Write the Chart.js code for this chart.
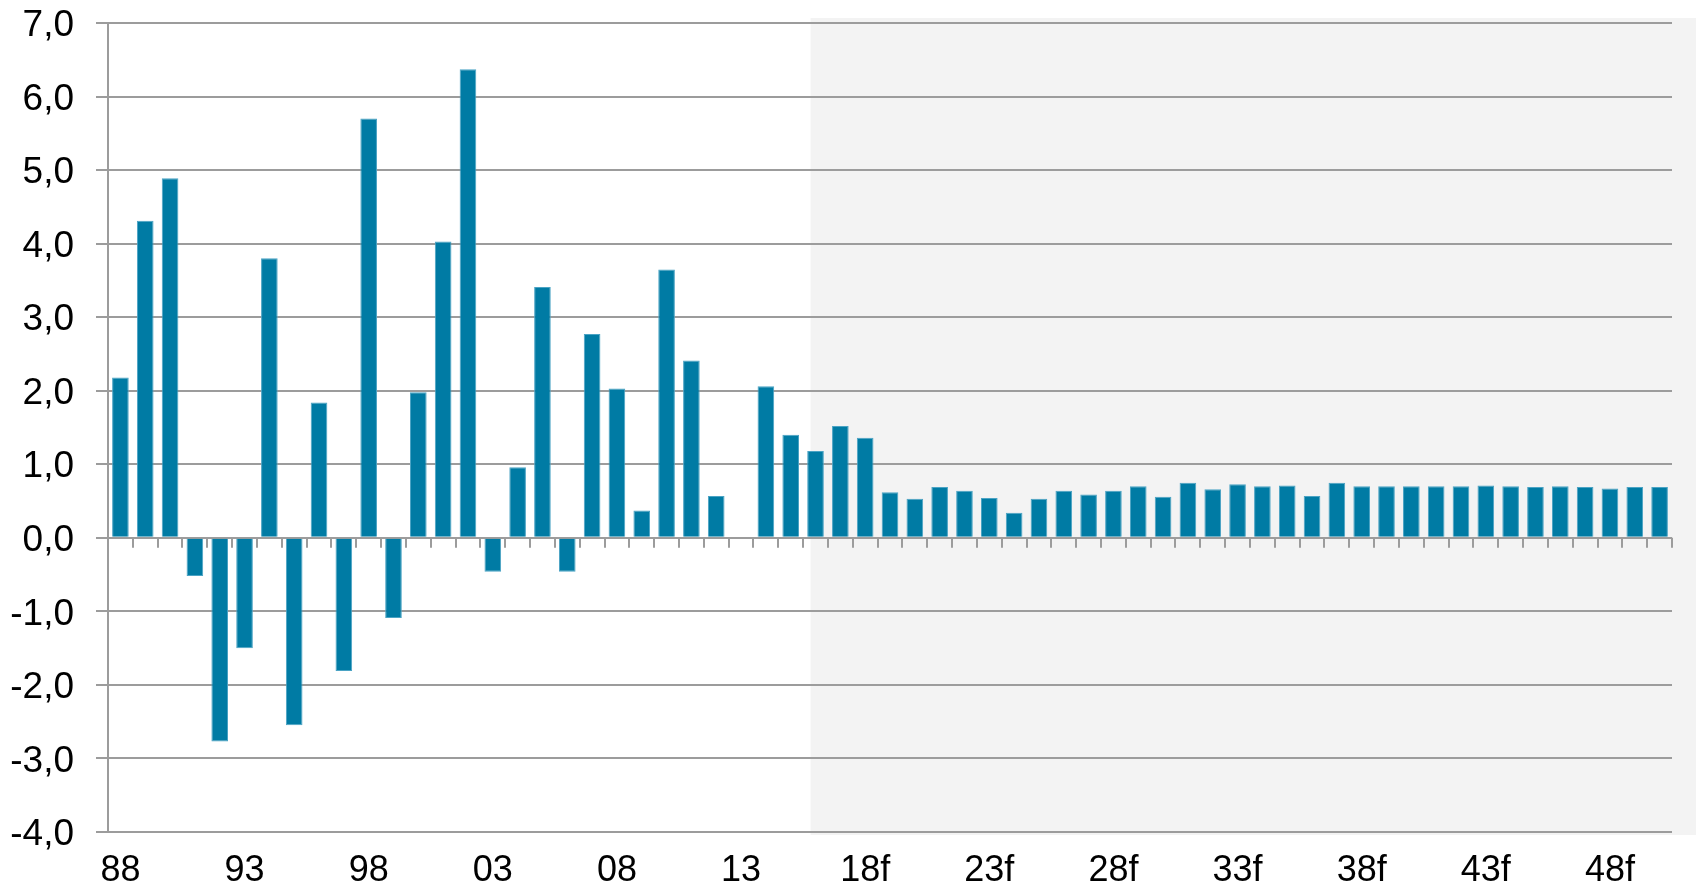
<!DOCTYPE html>
<html>
<head>
<meta charset="utf-8">
<script src="https://cdn.jsdelivr.net/npm/chart.js@4/dist/chart.umd.min.js"></script>
<style>
  html, body { margin: 0; padding: 0; background: #fff; }
  #wrap { width: 1696px; height: 886px; position: relative; }
</style>
</head>
<body>
<div id="wrap"><canvas id="growth_chart"></canvas></div>
<script>
const years = [
  '88', '89', '90', '91', '92', '93', '94', '95', '96', '97', '98', '99',
  '00', '01', '02', '03', '04', '05', '06', '07', '08', '09', '10', '11',
  '12', '13', '14', '15', '16f', '17f', '18f', '19f', '20f', '21f', '22f', '23f',
  '24f', '25f', '26f', '27f', '28f', '29f', '30f', '31f', '32f', '33f', '34f', '35f',
  '36f', '37f', '38f', '39f', '40f', '41f', '42f', '43f', '44f', '45f', '46f', '47f',
  '48f', '49f', '50f'
];
const growth = [
  2.18, 4.31, 4.89, -0.52, -2.77, -1.50, 3.80, -2.55, 1.84, -1.81, 5.70, -1.09,
  1.98, 4.03, 6.37, -0.46, 0.96, 3.41, -0.46, 2.77, 2.03, 0.37, 3.65, 2.41,
  0.57, null, 2.06, 1.40, 1.18, 1.52, 1.36, 0.62, 0.53, 0.69, 0.64, 0.54,
  0.34, 0.53, 0.64, 0.59, 0.64, 0.70, 0.56, 0.75, 0.66, 0.73, 0.70, 0.71,
  0.57, 0.75, 0.70, 0.70, 0.70, 0.70, 0.70, 0.71, 0.70, 0.69, 0.70, 0.69,
  0.67, 0.69, 0.69
];
const forecastFrom = '16f';
const yTicks = [-4, -3, -2, -1, 0, 1, 2, 3, 4, 5, 6, 7];

const gridGrey = '#9c9c9c';
const fontFamily = "'Liberation Sans', Arial, sans-serif";

// grauer Hintergrund fuer die Prognosejahre
const forecastShade = {
  id: 'forecastShade',
  beforeDraw(chart) {
    const { ctx, chartArea, scales } = chart;
    const left = scales.x.getPixelForValue(years.indexOf(forecastFrom) - 0.2);
    ctx.save();
    ctx.fillStyle = '#f3f3f3';
    ctx.fillRect(left, chartArea.top - 5, chart.width - left, chartArea.bottom - chartArea.top + 8);
    ctx.restore();
  }
};

// Striche an der Nulllinie zwischen den Kategorien
const zeroAxisTicks = {
  id: 'zeroAxisTicks',
  afterDatasetsDraw(chart) {
    const { ctx, scales } = chart;
    const y0 = scales.y.getPixelForValue(0);
    ctx.save();
    ctx.strokeStyle = gridGrey;
    ctx.lineWidth = 2;
    ctx.beginPath();
    for (let i = 0; i < years.length; i++) {
      const px = Math.round(scales.x.getPixelForValue(i + 0.5));
      ctx.moveTo(px, y0);
      ctx.lineTo(px, y0 + 10);
    }
    ctx.stroke();
    ctx.restore();
  }
};

const ctx = document.getElementById('growth_chart').getContext('2d');
const growthChart = new Chart(ctx, {
  type: 'bar',
  data: {
    labels: years,
    datasets: [{
      label: 'Wachstum',
      data: growth,
      backgroundColor: '#007ba4',
      borderColor: '#4aa3c4',
      borderWidth: 1,
      barPercentage: 0.67,
      categoryPercentage: 1.0
    }]
  },
  options: {
    responsive: true,
    maintainAspectRatio: false,
    animation: false,
    layout: { padding: { top: 0, right: 24, bottom: 0, left: 0 } },
    plugins: {
      legend: { display: false },
      tooltip: { enabled: false }
    },
    scales: {
      x: {
        grid: { display: false, drawTicks: false },
        border: { display: false },
        afterFit(scale) { scale.height = 54; },
        ticks: {
          autoSkip: false,
          maxRotation: 0,
          padding: 17,
          color: '#000',
          font: { family: fontFamily, size: 36 },
          callback: (val, idx) => idx % 5 === 0 ? years[idx] : ''
        }
      },
      y: {
        min: -4,
        max: 7,
        afterFit(scale) {
          scale.width = 108;
          scale.paddingTop = 23;
        },
        afterBuildTicks(scale) { scale.ticks = yTicks.map(v => ({ value: v })); },
        grid: {
          color: gridGrey,
          lineWidth: 2,
          tickLength: 12,
          tickColor: gridGrey
        },
        border: { display: true, color: gridGrey, width: 2 },
        ticks: {
          padding: 22,
          labelOffset: 3,
          color: '#000',
          font: { family: fontFamily, size: 37 },
          callback: v => v.toFixed(1).replace('.', ',')
        }
      }
    }
  },
  plugins: [forecastShade, zeroAxisTicks]
});
</script>
</body>
</html>
